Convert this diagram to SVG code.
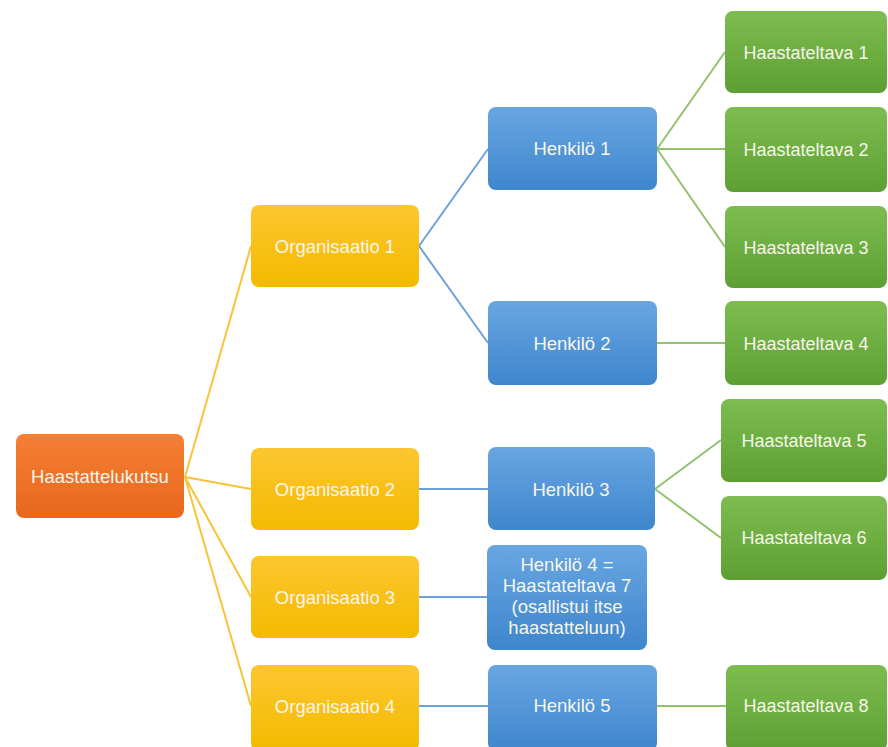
<svg xmlns="http://www.w3.org/2000/svg" width="888" height="747" viewBox="0 0 888 747">
<defs>
<linearGradient id="gO" x1="0" y1="0" x2="0" y2="1"><stop offset="0" stop-color="#f47f35"/><stop offset="1" stop-color="#e8671c"/></linearGradient>
<linearGradient id="gY" x1="0" y1="0" x2="0" y2="1"><stop offset="0" stop-color="#fdc630"/><stop offset="1" stop-color="#f4ba00"/></linearGradient>
<linearGradient id="gB" x1="0" y1="0" x2="0" y2="1"><stop offset="0" stop-color="#68a6e2"/><stop offset="1" stop-color="#3f86cd"/></linearGradient>
<linearGradient id="gG" x1="0" y1="0" x2="0" y2="1"><stop offset="0" stop-color="#7dbd50"/><stop offset="1" stop-color="#5e9f33"/></linearGradient>
</defs>
<style>
rect{rx:8px;ry:8px;}
.o{fill:url(#gO);}
.y{fill:url(#gY);}
.b{fill:url(#gB);}
.g{fill:url(#gG);}
text{font-family:"Liberation Sans",Arial,sans-serif;font-size:18.5px;fill:#f7f6ea;text-anchor:middle;}
.t{font-size:18px;}
.cy{stroke:#f7c437;stroke-width:2;fill:none;}
.cb{stroke:#6ea2d6;stroke-width:2;fill:none;}
.cg{stroke:#93c26f;stroke-width:2;fill:none;}
</style>
<rect width="888" height="747" fill="#ffffff" style="rx:0;ry:0"/>
<g id="connectors">
<path class="cy" d="M185 477 L251 246 M185 477 L251 489 M185 477 L251 597 M185 477 L251 706"/>
<path class="cb" d="M419 246 L488 149 M419 246 L488 343 M419 489 L488 489 M419 597 L487 597 M419 706 L488 706"/>
<path class="cg" d="M657 149 L725 52 M657 149 L725 149 M657 149 L725 247 M657 343 L725 343 M655 489 L721 440 M655 489 L721 538 M657 706 L726 706"/>
</g>
<g id="n-kutsu"><rect class="o" x="16" y="434" width="168" height="84"/><text x="100" y="483">Haastattelukutsu</text></g>
<g id="n-org1"><rect class="y" x="251" y="205" width="168" height="82"/><text x="335" y="253">Organisaatio 1</text></g>
<g id="n-org2"><rect class="y" x="251" y="448" width="168" height="82"/><text x="335" y="496">Organisaatio 2</text></g>
<g id="n-org3"><rect class="y" x="251" y="556" width="168" height="82"/><text x="335" y="604">Organisaatio 3</text></g>
<g id="n-org4"><rect class="y" x="251" y="665" width="168" height="86"/><text x="335" y="713">Organisaatio 4</text></g>
<g id="n-hen1"><rect class="b" x="488" y="107" width="169" height="83"/><text x="572" y="155">Henkilö 1</text></g>
<g id="n-hen2"><rect class="b" x="488" y="301" width="169" height="84"/><text x="572" y="350">Henkilö 2</text></g>
<g id="n-hen3"><rect class="b" x="488" y="447" width="167" height="83"/><text x="571" y="496">Henkilö 3</text></g>
<g id="n-hen4"><rect class="b" x="487" y="545" width="160" height="105"/>
<text x="567" y="571">Henkilö 4 =</text><text x="567" y="592">Haastateltava 7</text><text x="567" y="613">(osallistui itse</text><text x="567" y="634">haastatteluun)</text></g>
<g id="n-hen5"><rect class="b" x="488" y="665" width="169" height="86"/><text x="572" y="712">Henkilö 5</text></g>
<g id="n-h1"><rect class="g" x="725" y="11" width="162" height="82"/><text class="t" x="806" y="59">Haastateltava 1</text></g>
<g id="n-h2"><rect class="g" x="725" y="107" width="162" height="85"/><text class="t" x="806" y="156">Haastateltava 2</text></g>
<g id="n-h3"><rect class="g" x="725" y="206" width="162" height="82"/><text class="t" x="806" y="254">Haastateltava 3</text></g>
<g id="n-h4"><rect class="g" x="725" y="301" width="162" height="84"/><text class="t" x="806" y="350">Haastateltava 4</text></g>
<g id="n-h5"><rect class="g" x="721" y="399" width="166" height="83"/><text class="t" x="804" y="447">Haastateltava 5</text></g>
<g id="n-h6"><rect class="g" x="721" y="496" width="166" height="84"/><text class="t" x="804" y="544">Haastateltava 6</text></g>
<g id="n-h8"><rect class="g" x="726" y="665" width="161" height="86"/><text class="t" x="806" y="712">Haastateltava 8</text></g>
</svg>
